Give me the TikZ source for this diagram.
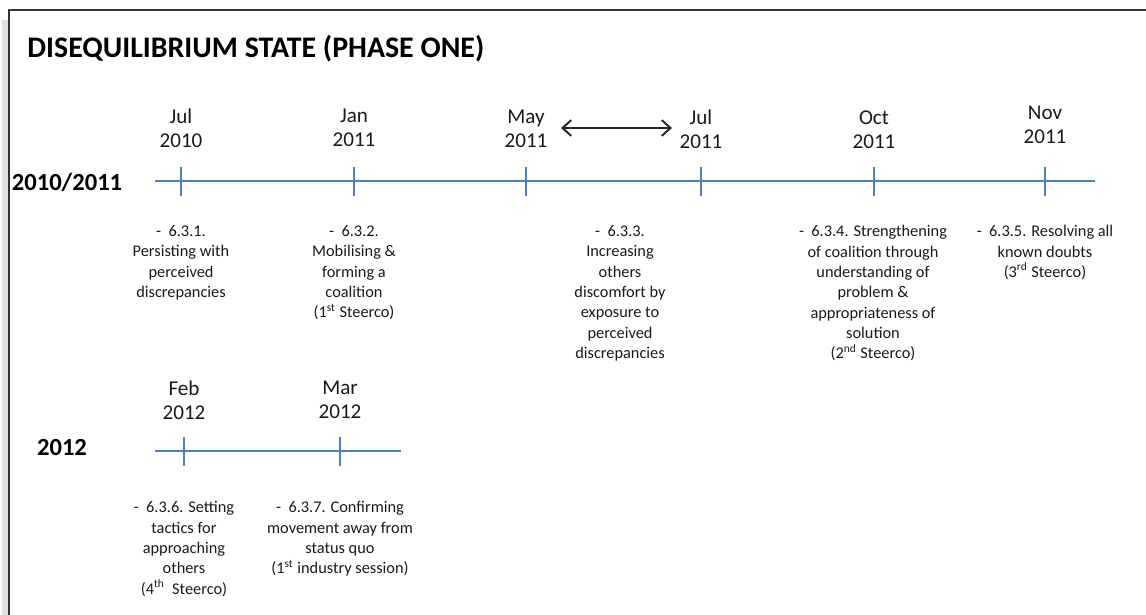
\documentclass[tikz,border=0pt]{standalone}
\usepackage{fontspec}
\setmainfont{Carlito}
\usepackage{tikz}
\usetikzlibrary{arrows.meta}

\begin{document}
\begin{tikzpicture}
	[x=0.02cm,y=-0.02cm,
	frameline/.style={line width=1.2pt,draw=black!80},
	axis/.style={line width=1.1pt,draw={rgb,255:red,79;green,129;blue,189}},
	year/.style={font=\fontsize{14}{17}\selectfont\bfseries,text=black,inner sep=0pt},
	month/.style={font=\fontsize{12}{13.5}\selectfont,align=center,text=black!90,inner sep=0pt},
	event/.style={font=\fontsize{9.3}{11.6}\selectfont,align=center,text=black!90,inner sep=0pt,anchor=north}]
	\useasboundingbox (0,0) rectangle (1146,615);
	
	% frame
	\draw[line width=3pt,draw=black!12] (5,615) -- (5,20);
	\draw[frameline] (9,615) -- (9,10) -- (1146,10);
	
	\node[anchor=west,inner sep=0pt,font=\fontsize{17}{21}\selectfont\bfseries] (title) at (27,49) {DISEQUILIBRIUM STATE (PHASE ONE)};
	
	% first row
	\node[year] (row1) at (67,182) {2010/2011};
	\coordinate (a1) at (155,181);
	\coordinate (b1) at (1095,181);
	\draw[axis] (a1) -- (b1);
	
	\foreach \n/\x/\y/\txt in {1/181/128/{Jul\\2010},2/354/128/{Jan\\2011},3/526/129/{May\\2011},
		4/701/129/{Jul\\2011},5/874/130/{Oct\\2011},6/1045/125/{Nov\\2011}}
	{
		\coordinate (t\n) at (\x,181);
		\draw[axis] (t\n) ++(0,-14) -- ++(0,29);
		\node[month] (m\n) at (\x,\y) {\txt};
	}
	
	\coordinate (arrL) at (561,128);
	\coordinate (arrR) at (672,128);
	\draw[{Straight Barb[length=5pt,width=9pt]}-{Straight Barb[length=5pt,width=9pt]},line width=1.1pt,black!85] (arrL) -- (arrR);
	
	\node[event] (e1) at (181,225) {-\ \ 6.3.1.\\Persisting with\\perceived\\discrepancies};
	\node[event] (e2) at (354,225) {-\ \ 6.3.2.\\Mobilising \&\\forming a\\coalition\\(1\textsuperscript{st} Steerco)};
	\node[event] (e3) at (620,225) {-\ \ 6.3.3.\\Increasing\\others\\discomfort by\\exposure to\\perceived\\discrepancies};
	\node[event] (e4) at (873,225) {-\ \ 6.3.4. Strengthening\\of coalition through\\understanding of\\problem \&\\appropriateness of\\solution\\(2\textsuperscript{nd} Steerco)};
	\node[event] (e5) at (1045,225) {-\ \ 6.3.5. Resolving all\\known doubts\\(3\textsuperscript{rd} Steerco)};
	
	% second row
	\node[year] (row2) at (62,448) {2012};
	\coordinate (a2) at (155,451);
	\coordinate (b2) at (401,451);
	\draw[axis] (a2) -- (b2);
	
	\foreach \n/\x/\txt in {7/184/{Feb\\2012},8/340/{Mar\\2012}}
	{
		\coordinate (t\n) at (\x,451);
		\draw[axis] (t\n) ++(0,-14) -- ++(0,29);
		\node[month] (m\n) at (\x,400) {\txt};
	}
	
	\node[event] (e6) at (184,501) {-\ \ 6.3.6. Setting\\tactics for\\approaching\\others\\(4\textsuperscript{th}\ \ Steerco)};
	\node[event] (e7) at (340,501) {-\ \ 6.3.7. Confirming\\movement away from\\status quo\\(1\textsuperscript{st} industry session)};
\end{tikzpicture}
\end{document}
